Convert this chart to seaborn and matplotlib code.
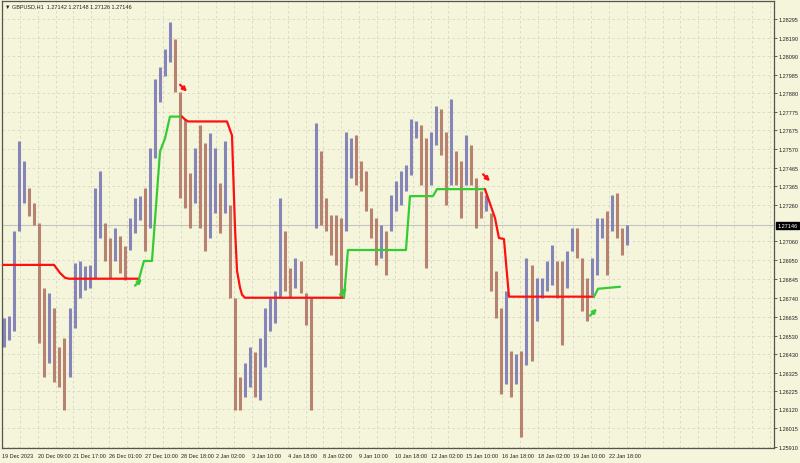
import numpy as np
import matplotlib
matplotlib.use('Agg')
import matplotlib.pyplot as plt
from matplotlib.ticker import MultipleLocator
import seaborn as sns

# GBPUSD H1, bar ranges, one entry about every 4.5 hours
bar_high = [1.26631, 1.26642, 1.27114, 1.27613, 1.27502, 1.27352, 1.27269, 1.27158, 1.26798, 1.26770,
            1.26687, 1.26465, 1.26520, 1.26687, 1.26936, 1.26947, 1.26919, 1.26925, 1.27352, 1.27446,
            1.27158, 1.27075, 1.27130, 1.27086, 1.27030, 1.27186, 1.27297, 1.27308, 1.27352, 1.27574,
            1.27962, 1.28029, 1.28129, 1.28278, 1.28184, 1.27890, 1.27740, 1.27435, 1.27574, 1.27702,
            1.27602, 1.27657, 1.27574, 1.27380, 1.27613, 1.27258, 1.26742, 1.26298, 1.26381, 1.26465,
            1.26437, 1.26520, 1.26687, 1.26742, 1.26781, 1.27297, 1.27114, 1.26908, 1.26964, 1.26947,
            1.26770, 1.26742, 1.27713, 1.27557, 1.27297, 1.27202, 1.27202, 1.27186, 1.27668, 1.27630,
            1.27646, 1.27502, 1.27446, 1.27241, 1.27186, 1.27147, 1.27114, 1.27313, 1.27391, 1.27446,
            1.27480, 1.27740, 1.27724, 1.27702, 1.27630, 1.27668, 1.27812, 1.27796, 1.27668, 1.27851,
            1.27557, 1.27502, 1.27646, 1.27591, 1.27408, 1.27335, 1.27313, 1.27213, 1.26892, 1.26687,
            1.26781, 1.26448, 1.26426, 1.26448, 1.26964, 1.26925, 1.26853, 1.26853, 1.26947, 1.27036,
            1.26947, 1.26947, 1.27002, 1.27130, 1.27130, 1.26964, 1.26853, 1.26964, 1.27186, 1.27186,
            1.27224, 1.27313, 1.27324, 1.27130, 1.27147]
bar_low = [1.26465, 1.26509, 1.26559, 1.27114, 1.27269, 1.27197, 1.27147, 1.26492, 1.26298, 1.26381,
           1.26270, 1.26243, 1.26115, 1.26298, 1.26576, 1.26742, 1.26786, 1.26798, 1.26853, 1.27075,
           1.26947, 1.26853, 1.26947, 1.26880, 1.26842, 1.27008, 1.27102, 1.27175, 1.27002, 1.27130,
           1.27519, 1.27835, 1.27979, 1.28057, 1.27890, 1.27297, 1.27241, 1.27130, 1.27269, 1.27130,
           1.27002, 1.27075, 1.27213, 1.27102, 1.27213, 1.26742, 1.26115, 1.26115, 1.26187, 1.26243,
           1.26187, 1.26171, 1.26354, 1.26559, 1.26603, 1.26742, 1.26781, 1.26742, 1.26798, 1.26770,
           1.26592, 1.26115, 1.27130, 1.27147, 1.27114, 1.26980, 1.26925, 1.26742, 1.27114, 1.27408,
           1.27369, 1.27335, 1.27224, 1.27075, 1.26925, 1.26964, 1.26869, 1.27114, 1.27224, 1.27258,
           1.27335, 1.27424, 1.27630, 1.27369, 1.26908, 1.27369, 1.27591, 1.27535, 1.27258, 1.27369,
           1.27369, 1.27186, 1.27369, 1.27369, 1.27130, 1.27186, 1.27224, 1.26781, 1.26631, 1.26204,
           1.26259, 1.26187, 1.26259, 1.25965, 1.26370, 1.26392, 1.26614, 1.26742, 1.26781, 1.26814,
           1.26742, 1.26481, 1.26798, 1.27002, 1.26964, 1.26670, 1.26614, 1.26759, 1.26869, 1.27075,
           1.26869, 1.27114, 1.27075, 1.26980, 1.27036]

# trailing stop line, breakpoints as (hour since 19 Dec 00:00, price)
down1_hours = [0, 46.6, 52.0, 56.5, 60.0, 122.8]
down1_price = [1.26925, 1.26925, 1.26880, 1.26853, 1.26848, 1.26848]
up1_hours = [122.8, 127.2, 134.4, 141.6, 146.1, 150.5, 161.3]
up1_price = [1.26848, 1.26947, 1.26947, 1.27557, 1.27630, 1.27751, 1.27751]
down2_hours = [161.3, 164.0, 166.7, 201.6, 206.1, 208.8, 210.6, 213.3, 215.1, 217.7, 306.5]
down2_price = [1.27751, 1.27735, 1.27724, 1.27724, 1.27646, 1.27130, 1.26892, 1.26798, 1.26759,
               1.26742, 1.26742]
up2_hours = [306.5, 310.0, 362.0, 365.6, 386.2, 389.8, 432.8]
up2_price = [1.26742, 1.27008, 1.27008, 1.27308, 1.27308, 1.27347, 1.27347]
down3_hours = [432.8, 441.8, 445.3, 449.8, 454.3, 530.5]
down3_price = [1.27347, 1.27186, 1.27075, 1.27069, 1.26748, 1.26748]
up3_hours = [530.5, 534.1, 544.8, 553.8]
up3_price = [1.26748, 1.26792, 1.26798, 1.26803]

# signal arrows (tip position)
signal_hours = [125.4, 165.8, 309.1, 437.3, 533.2]
signal_price = [1.26848, 1.27890, 1.26798, 1.27391, 1.26681]
signal_dir = ['buy', 'sell', 'buy', 'sell', 'buy']

x_labels = ['19 Dec 2023', '20 Dec 09:00', '21 Dec 17:00', '26 Dec 01:00', '27 Dec 10:00',
            '28 Dec 18:00', '2 Jan 02:00', '3 Jan 10:00', '4 Jan 18:00', '8 Jan 02:00',
            '9 Jan 10:00', '10 Jan 18:00', '12 Jan 02:00', '15 Jan 10:00', '16 Jan 18:00',
            '18 Jan 02:00', '19 Jan 10:00', '22 Jan 18:00']
y_ticks = [1.25910, 1.26015, 1.26120, 1.26225, 1.26325, 1.26430, 1.26530, 1.26635, 1.26740,
           1.26845, 1.26950, 1.27060, 1.27260, 1.27365, 1.27465, 1.27570, 1.27675, 1.27775,
           1.27880, 1.27985, 1.28090, 1.28190, 1.28295]
last_price = 1.27146

BG = '#f5f5dc'
BLUE = '#7676b6'
BROWN = '#b07262'
RED = '#ff1010'
GREEN = '#33cc33'

sns.set_theme(style='white')
plt.rcParams['font.family'] = ['Liberation Sans', 'DejaVu Sans']

fig = plt.figure(figsize=(8, 4.64), dpi=100, facecolor=BG)
ax = fig.add_axes([2 / 800, 15 / 464, 772 / 800, 447 / 464])
ax.set_facecolor(BG)

# price bars, blue when the range moved up, brown when it moved down
hours = np.arange(len(bar_high)) * 4.5 + 2
mid = (np.array(bar_high) + np.array(bar_low)) / 2
rising = np.r_[True, np.diff(mid) >= 0]
ax.vlines(hours, bar_low, bar_high, colors=np.where(rising, BLUE, BROWN), lw=2.2, alpha=0.88,
          zorder=2)

# current price line
ax.axhline(last_price, color='#c4c4bc', lw=0.8, zorder=1)

for h, p, c in [(down1_hours, down1_price, RED), (up1_hours, up1_price, GREEN),
                (down2_hours, down2_price, RED), (up2_hours, up2_price, GREEN),
                (down3_hours, down3_price, RED), (up3_hours, up3_price, GREEN)]:
    sns.lineplot(x=h, y=p, ax=ax, color=c, lw=1.6, sort=False, estimator=None, zorder=3)

for h, p, d in zip(signal_hours, signal_price, signal_dir):
    col = GREEN if d == 'buy' else RED
    off = (-5, -5) if d == 'buy' else (-5, 5)
    ax.annotate('', xy=(h, p), xytext=off, textcoords='offset points',
                arrowprops=dict(arrowstyle='-|>', color=col, lw=1.6, mutation_scale=6,
                                shrinkA=0, shrinkB=0), zorder=4)

ax.set_xlim(0, 691.8)
ax.set_ylim(1.25905, 1.28395)
ax.set_xlabel('')
ax.set_ylabel('')

ax.set_xticks(np.arange(len(x_labels)) * 32)
ax.set_xticklabels(x_labels, ha='left')
ax.xaxis.set_minor_locator(MultipleLocator(16))
ax.yaxis.tick_right()
ax.set_yticks(y_ticks)
ax.set_yticklabels([f'{v:.5f}' for v in y_ticks])
ax.tick_params(axis='both', labelsize=4, length=2, width=0.5, pad=1.5, colors='#222222')
ax.tick_params(axis='x', which='minor', length=0)
ax.tick_params(axis='y', right=True, left=False)

ax.grid(True, which='both', axis='x', color='#d6d6c8', lw=0.6, ls=(0, (3, 3)))
ax.grid(True, which='major', axis='y', color='#d6d6c8', lw=0.6, ls=(0, (3, 3)))
ax.set_axisbelow(True)
for s in ax.spines.values():
    s.set_visible(True)
    s.set_color('#555550')
    s.set_linewidth(0.9)

ax.annotate(f'{last_price:.5f}', xy=(1.0, last_price), xycoords=('axes fraction', 'data'),
            xytext=(2.5, 0), textcoords='offset points', ha='left', va='center',
            fontsize=4, color='white',
            bbox=dict(boxstyle='square,pad=0.2', fc='black', ec='black'))

fig.text(5 / 800, 1 - 7 / 464, '▼ GBPUSD,H1  1.27142 1.27148 1.27126 1.27146',
         fontsize=4, va='center', ha='left', color='#222222')

fig.savefig('out.png', dpi=100, facecolor=BG)
